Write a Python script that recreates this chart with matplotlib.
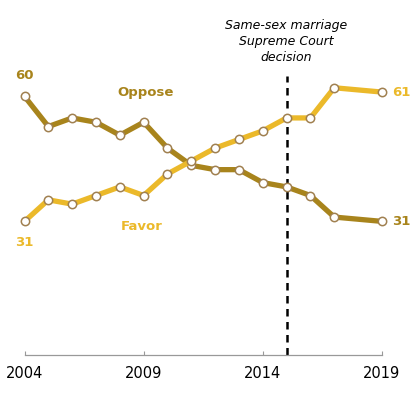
import matplotlib
matplotlib.use("Agg")
import matplotlib.pyplot as plt

# Survey data: share who favor / oppose same-sex marriage
years = [2004, 2005, 2006, 2007, 2008, 2009, 2010, 2011, 2012, 2013, 2014, 2015, 2016, 2017, 2019]
favor = [31, 36, 35, 37, 39, 37, 42, 45, 48, 50, 52, 55, 55, 62, 61]
oppose = [60, 53, 55, 54, 51, 54, 48, 44, 43, 43, 40, 39, 37, 32, 31]
tick_years = [2004, 2009, 2014, 2019]
decision_year = 2015

oppose_col = '#a8841c'
favor_col = '#ebb92a'
edge_col = '#a08050'

fig = plt.figure(figsize=(4.17, 3.97), dpi=100)
ax = fig.add_axes([0.0588, 0.1058, 0.857, 0.76])

ax.axvline(decision_year, ymin=0, ymax=0.925, color='black', linestyle=(0, (3, 2.2)), lw=1.8, zorder=1)

ax.plot(years, oppose, color=oppose_col, lw=3.8, marker='o', ms=6,
        mfc='white', mec=edge_col, mew=1.1, clip_on=False, zorder=3)
ax.plot(years, favor, color=favor_col, lw=3.8, marker='o', ms=6,
        mfc='white', mec=edge_col, mew=1.1, clip_on=False, zorder=3)

# end labels
ax.text(years[0], oppose[0] + 4.8, str(oppose[0]), color=oppose_col, fontsize=9.5,
        fontweight='bold', ha='center', va='center')
ax.text(years[0], favor[0] - 5, str(favor[0]), color=favor_col, fontsize=9.5,
        fontweight='bold', ha='center', va='center')
ax.text(years[-1] + 0.8, favor[-1], str(favor[-1]), color=favor_col, fontsize=9.5,
        fontweight='bold', ha='center', va='center')
ax.text(years[-1] + 0.8, oppose[-1], str(oppose[-1]), color=oppose_col, fontsize=9.5,
        fontweight='bold', ha='center', va='center')

# series labels
ax.text(2009.1, 61, 'Oppose', color=oppose_col, fontsize=9.5, fontweight='bold',
        ha='center', va='center')
ax.text(2008.9, 29.7, 'Favor', color=favor_col, fontsize=9.5, fontweight='bold',
        ha='center', va='center')

ax.text(decision_year, 72.7, 'Same-sex marriage\nSupreme Court\ndecision', fontsize=9,
        style='italic', ha='center', va='center', linespacing=1.3)

ax.set_xlim(2004, 2019)
ax.set_ylim(0, 70)
for s in ['top', 'right', 'left']:
    ax.spines[s].set_visible(False)
ax.spines['bottom'].set_color('#999999')
ax.spines['bottom'].set_linewidth(0.9)
ax.set_yticks([])
ax.set_xticks(tick_years)
ax.set_xticklabels([str(y) for y in tick_years], fontsize=10.5)
ax.tick_params(axis='x', direction='in', length=3, color='#999999', pad=8)

fig.savefig('out.png', dpi=100)
